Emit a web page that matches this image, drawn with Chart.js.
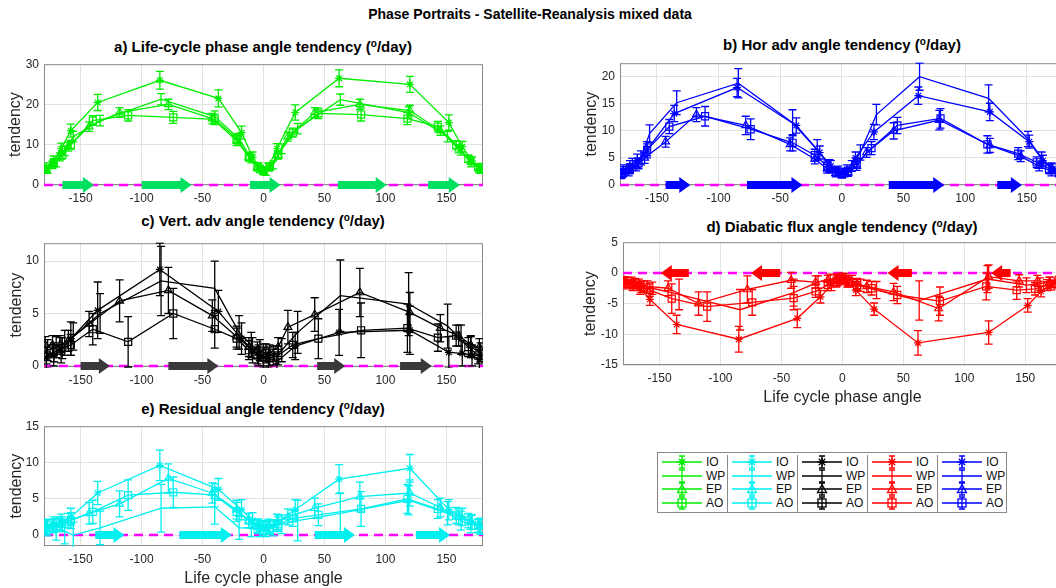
<!DOCTYPE html>
<html>
<head>
<meta charset="utf-8">
<script src="https://cdn.jsdelivr.net/npm/chart.js@4"></script>
<style>
  body { margin: 0; width: 1056px; height: 588px; overflow: hidden; background: #fff; position: relative;
         font-family: 'Liberation Sans', Arial, Helvetica, sans-serif; }
  canvas { position: absolute; }
  .ttl { position: absolute; font-weight: bold; font-size: 15px; line-height: 18px; white-space: nowrap;
         transform: translateX(-50%); color: #000; }
  .ttl sup { font-size: 10px; vertical-align: 5px; line-height: 0; }
  #main { font-size: 14px; }
  #legend { position: absolute; left: 657px; top: 452px; width: 350px; height: 61px; border: 1px solid #888; box-sizing: border-box; }
  .col { position: absolute; top: 2px; width: 70px; height: 57px; }
  .col + .col { border-left: 1px solid #888; }
  .row { height: 13.7px; display: flex; align-items: center; font-size: 12px; color: #111; }
  .row svg { margin-left: 4px; margin-right: 4px; }
</style>
</head>
<body>
<div class="ttl" id="main" style="left:530px; top:5px;">Phase Portraits - Satellite-Reanalysis mixed data</div>
<div class="ttl" style="left:263px; top:38px;">a) Life-cycle phase angle tendency (<sup>o</sup>/day)</div>
<div class="ttl" style="left:842px; top:36px;">b) Hor adv angle tendency (<sup>o</sup>/day)</div>
<div class="ttl" style="left:263px; top:212px;">c) Vert. adv angle tendency (<sup>o</sup>/day)</div>
<div class="ttl" style="left:842px; top:218px;">d) Diabatic flux angle tendency (<sup>o</sup>/day)</div>
<div class="ttl" style="left:263px; top:400px;">e) Residual angle tendency (<sup>o</sup>/day)</div>
<canvas id="pa" width="490" height="152" style="left:0px; top:52px;"></canvas>
<canvas id="pb" width="500" height="153" style="left:570px; top:51px;"></canvas>
<canvas id="pc" width="490" height="155" style="left:0px; top:231px;"></canvas>
<canvas id="pd" width="495" height="177" style="left:573px; top:230px;"></canvas>
<canvas id="pe" width="490" height="174" style="left:0px; top:414px;"></canvas>
<div id="legend"></div>
<script>
const FONT = "'Liberation Sans', Arial, Helvetica, sans-serif";

// phase angle of each composite point, per region
const xIO = [-178, -172, -166, -158, -136, -85, -37, -18, -9, -4, 0, 4, 11, 26, 62, 120, 152, 163, 171, 177];
const xWP = [-177, -170, -163, -156, -134, -84, -40, -20, -10, -3, 2, 8, 15, 28, 63, 119, 151, 162, 170, 178];
const xEP = [-179, -173, -167, -160, -143, -118, -78, -42, -22, -12, -5, 0, 5, 12, 20, 42, 79, 120, 145, 160, 170, 177];
const xAO = [-178, -172, -165, -158, -140, -111, -74, -40, -22, -12, -5, 0, 5, 12, 24, 45, 80, 118, 143, 158, 168, 176];
const xTicks = [-150, -100, -50, 0, 50, 100, 150];

// a) life-cycle
const aIO = [4.5, 6.0, 9.0, 13.5, 20.5, 26.0, 21.5, 13.0, 7.0, 4.5, 3.5, 4.5, 9.0, 18.0, 26.5, 25.0, 15.5, 9.5, 6.0, 4.0];
const aIOe = [1.0, 1.2, 1.4, 1.6, 2.0, 2.2, 2.1, 1.6, 1.2, 1.0, 1.0, 1.0, 1.3, 1.9, 2.1, 2.0, 1.9, 1.3, 1.0, 1.0];
const aWP = [3.8, 5.5, 8.5, 12.0, 16.0, 21.3, 17.0, 11.5, 6.5, 4.0, 3.3, 5.0, 9.0, 14.0, 21.2, 18.0, 12.0, 8.5, 5.5, 3.8];
const aWPe = [0.9, 1.0, 1.2, 1.3, 1.3, 1.4, 1.4, 1.3, 1.0, 0.9, 0.9, 1.0, 1.2, 1.3, 1.4, 1.4, 1.3, 1.1, 1.0, 0.9];
const aEP = [3.8, 5.0, 7.0, 9.5, 14.5, 18.0, 20.0, 16.5, 11.0, 7.0, 4.5, 3.5, 4.5, 7.5, 12.0, 18.0, 20.0, 18.5, 13.5, 9.0, 6.0, 4.0];
const aEPe = [0.8, 0.9, 1.0, 1.1, 1.2, 1.2, 1.3, 1.3, 1.2, 1.0, 0.9, 0.8, 0.9, 1.0, 1.1, 1.2, 1.3, 1.3, 1.2, 1.0, 0.9, 0.8];
const aAO = [4.0, 5.5, 7.5, 10.0, 16.0, 17.3, 16.8, 16.3, 11.5, 7.0, 4.5, 3.5, 4.5, 7.5, 13.0, 17.8, 17.5, 16.5, 14.5, 10.0, 6.5, 4.5];
const aAOe = [0.8, 0.9, 1.0, 1.1, 1.2, 1.4, 1.5, 1.3, 1.2, 1.0, 0.9, 0.8, 0.9, 1.0, 1.1, 1.3, 1.6, 1.5, 1.3, 1.0, 0.9, 0.8];

// b) horizontal advection
const bIO = [2.5, 3.5, 4.5, 6.5, 13.2, 18.0, 11.0, 6.0, 3.5, 2.5, 2.2, 2.8, 5.0, 9.8, 16.5, 13.5, 8.0, 4.5, 3.0, 2.5];
const bIOe = [0.9, 1.0, 1.2, 1.5, 1.5, 1.7, 1.4, 1.2, 1.0, 0.8, 0.8, 0.9, 1.1, 1.4, 1.6, 1.6, 1.2, 1.0, 0.9, 0.8];
const bWP = [2.8, 3.8, 5.0, 9.5, 15.2, 18.8, 11.5, 6.5, 3.5, 2.6, 2.3, 3.5, 6.0, 13.0, 20.0, 16.0, 8.5, 5.0, 3.2, 2.5];
const bWPe = [0.9, 1.1, 1.3, 1.6, 2.2, 2.7, 2.4, 1.9, 1.2, 0.9, 0.8, 1.0, 1.4, 1.9, 2.5, 2.5, 1.4, 1.1, 0.9, 0.8];
const bEP = [2.0, 2.5, 3.5, 5.0, 8.0, 13.0, 11.0, 7.5, 4.8, 3.0, 2.2, 2.0, 2.3, 3.5, 6.0, 10.0, 12.0, 7.3, 5.3, 3.5, 2.5, 2.0];
const bEPe = [0.8, 0.8, 0.9, 1.0, 1.0, 1.3, 1.7, 1.2, 0.9, 0.8, 0.7, 0.7, 0.7, 0.8, 0.9, 1.5, 1.8, 1.3, 1.0, 0.9, 0.8, 0.8];
const bAO = [2.2, 3.0, 4.0, 6.5, 10.8, 12.7, 10.3, 7.8, 5.5, 3.5, 2.5, 2.0, 2.5, 4.0, 6.8, 11.0, 12.3, 7.5, 5.8, 4.2, 3.0, 2.3];
const bAOe = [0.8, 0.9, 1.0, 1.1, 1.3, 1.8, 1.9, 1.5, 1.1, 0.9, 0.8, 0.7, 0.8, 0.9, 1.2, 1.5, 1.8, 1.6, 1.1, 1.0, 0.9, 0.8];

// c) vertical advection
const cIO = [0.8, 1.0, 1.5, 2.6, 5.3, 9.2, 5.2, 2.6, 1.5, 1.0, 0.8, 0.8, 0.4, 1.9, 3.2, 3.4, 1.3, 1.2, 1.0, 0.6];
const cIOe = [1.0, 1.0, 1.2, 1.6, 2.7, 2.5, 2.0, 1.5, 1.2, 1.0, 1.0, 1.0, 0.8, 1.3, 2.2, 2.3, 1.5, 1.2, 1.0, 0.9];
const cWP = [1.5, 1.8, 2.2, 2.8, 5.0, 8.1, 7.4, 3.2, 2.0, 1.5, 1.2, 1.0, 1.5, 3.2, 6.7, 5.9, 3.8, 2.5, 1.8, 1.3];
const cWPe = [1.0, 1.0, 1.2, 1.3, 1.9, 3.3, 2.6, 1.6, 1.2, 1.0, 0.9, 0.9, 1.1, 2.0, 3.4, 3.0, 2.1, 1.4, 1.0, 0.9];
const cEP = [2.0, 2.0, 2.0, 2.4, 4.0, 6.2, 7.2, 4.8, 2.8, 1.8, 1.5, 1.3, 1.2, 1.8, 3.7, 4.9, 7.0, 5.1, 3.6, 2.9, 2.0, 1.8];
const cEPe = [0.8, 0.9, 0.9, 1.0, 1.2, 2.0, 2.2, 1.5, 1.0, 0.9, 0.8, 0.8, 0.8, 0.9, 1.6, 1.6, 2.3, 1.9, 1.3, 1.0, 0.9, 0.8];
const cAO = [1.0, 1.3, 1.7, 2.0, 3.5, 2.3, 5.0, 3.5, 2.6, 1.5, 1.0, 0.8, 0.8, 1.0, 2.0, 2.6, 3.4, 3.6, 2.7, 2.9, 1.8, 1.0];
const cAOe = [0.8, 0.9, 1.0, 1.0, 1.5, 2.4, 2.4, 1.8, 1.0, 0.9, 0.8, 0.8, 0.8, 0.9, 1.2, 1.9, 2.6, 2.3, 1.3, 1.0, 0.9, 0.8];

// d) diabatic flux
const dIO = [-1.6, -2.0, -2.5, -4.3, -8.4, -10.8, -7.4, -3.9, -2.0, -1.3, -1.0, -1.5, -2.8, -5.9, -11.4, -9.7, -5.3, -3.0, -2.0, -1.5];
const dIOe = [0.8, 0.9, 1.0, 1.0, 1.5, 2.1, 1.5, 1.0, 0.9, 0.8, 0.8, 0.8, 0.9, 1.0, 2.0, 1.9, 1.1, 0.9, 0.8, 0.8];
const dWP = [-1.5, -1.7, -2.2, -2.5, -3.5, -6.0, -3.2, -1.5, -1.0, -0.8, -0.8, -1.2, -2.0, -2.8, -4.5, -1.0, -2.0, -1.8, -1.5, -1.3];
const dWPe = [0.8, 0.8, 0.9, 1.0, 2.5, 3.3, 2.2, 1.0, 0.8, 0.7, 0.7, 0.8, 1.0, 1.4, 3.2, 2.2, 1.2, 1.0, 0.8, 0.8];
const dEP = [-1.3, -1.5, -1.8, -2.2, -2.5, -5.0, -2.7, -1.2, -1.5, -1.2, -1.0, -0.8, -1.2, -1.8, -2.2, -3.1, -5.8, -0.6, -1.3, -1.3, -1.5, -1.5];
const dEPe = [0.7, 0.8, 0.8, 0.9, 1.2, 1.9, 2.2, 1.3, 1.0, 0.8, 0.7, 0.7, 0.8, 0.9, 1.0, 1.4, 2.0, 1.9, 1.0, 0.9, 0.8, 0.7];
const dAO = [-1.8, -2.0, -2.3, -2.8, -4.2, -5.5, -4.8, -4.1, -3.0, -2.0, -1.5, -1.2, -1.5, -2.0, -2.5, -3.6, -4.6, -2.2, -2.8, -2.6, -2.0, -1.8];
const dAOe = [0.8, 0.8, 0.9, 1.0, 2.4, 2.4, 2.1, 1.9, 1.0, 0.9, 0.8, 0.7, 0.8, 0.9, 1.1, 1.4, 2.3, 2.2, 1.5, 1.0, 0.9, 0.8];

// e) residual
const eIO = [1.2, 1.5, 1.8, 2.5, 5.8, 9.6, 6.3, 3.5, 2.0, 1.2, 1.0, 1.2, 1.8, 3.5, 7.7, 9.2, 3.5, 2.5, 1.8, 1.3];
const eIOe = [1.0, 1.0, 1.1, 1.2, 1.6, 2.1, 1.5, 1.4, 1.1, 1.0, 1.0, 1.0, 1.1, 1.4, 2.0, 1.9, 1.4, 1.2, 1.0, 1.0];
const eWP = [1.0, 0.8, 0.5, 0.0, 1.0, 3.7, 3.9, 1.0, 1.0, 0.8, 0.8, 1.0, 1.5, 2.0, 3.0, 4.8, 3.0, 2.0, 1.5, 1.2];
const eWPe = [1.1, 1.5, 1.7, 1.8, 2.3, 3.3, 2.4, 1.6, 1.2, 1.0, 1.0, 1.1, 1.3, 2.8, 2.8, 2.0, 1.6, 1.3, 1.2, 1.1];
const eEP = [1.0, 1.3, 1.5, 2.0, 3.0, 4.3, 7.8, 5.8, 3.5, 2.0, 1.3, 1.0, 1.2, 1.8, 2.5, 3.7, 5.3, 5.8, 3.8, 2.5, 1.8, 1.2];
const eEPe = [0.9, 0.9, 1.0, 1.0, 1.5, 1.8, 2.0, 1.4, 1.3, 1.0, 0.9, 0.9, 0.9, 1.0, 1.1, 1.4, 2.0, 1.8, 1.3, 1.1, 1.0, 0.9];
const eAO = [1.0, 1.2, 1.5, 2.0, 3.2, 5.5, 5.9, 5.5, 3.2, 2.0, 1.2, 1.0, 1.0, 1.5, 2.3, 2.8, 3.6, 5.0, 3.6, 2.7, 2.0, 1.3];
const eAOe = [0.9, 0.9, 1.0, 1.1, 1.6, 2.1, 2.1, 1.6, 1.3, 1.0, 0.9, 0.9, 0.9, 1.0, 1.1, 1.5, 2.4, 2.0, 1.3, 1.1, 1.0, 0.9];

// phase direction arrows along the zero line [from, to] in degrees
const arrowsA = [[-165, -139], [-100, -59], [-11, 14], [61, 101], [135, 161]];
const arrowsB = [[-143, -123], [-77, -32], [38, 83], [126, 146]];
const arrowsC = [[-150, -126], [-78, -37], [44, 67], [112, 138]];
const arrowsD = [[-126, -149], [-51, -75], [57, 37], [138, 122]];
const arrowsE = [[-138, -114], [-69, -26], [42, 75], [125, 153]];

const regions = ['IO', 'WP', 'EP', 'AO'];
const regionX = { IO: xIO, WP: xWP, EP: xEP, AO: xAO };
const markers = { IO: 'star', WP: false, EP: 'triangle', AO: 'rect' };
const markerSize = { IO: 4, WP: 0, EP: 4.5, AO: 5 };

// axes box first, so the dashed zero line sits on top of it
const frame = {
  id: 'frame',
  beforeDatasetsDraw(chart) {
    const { ctx, chartArea: ca } = chart;
    ctx.save();
    ctx.strokeStyle = '#8a8a8a';
    ctx.lineWidth = 1;
    ctx.strokeRect(ca.left + 0.5, ca.top + 0.5, ca.right - ca.left - 1, ca.bottom - ca.top - 1);
    ctx.restore();
  }
};

const zeroArrows = {
  id: 'zeroArrows',
  beforeDatasetsDraw(chart, args, opts) {
    const { ctx, chartArea: ca, scales: { x, y } } = chart;
    const y0 = y.getPixelForValue(0);
    ctx.save();
    ctx.strokeStyle = '#ff00ff';
    ctx.lineWidth = 2.5;
    ctx.setLineDash([9, 6]);
    ctx.beginPath();
    ctx.moveTo(ca.left, y0);
    ctx.lineTo(ca.right, y0);
    ctx.stroke();
    ctx.fillStyle = opts.color;
    opts.arrows.forEach(([from, to]) => {
      const x0 = x.getPixelForValue(from), x1 = x.getPixelForValue(to);
      const xb = x1 - Math.sign(x1 - x0) * 11;
      ctx.beginPath();
      ctx.moveTo(x0, y0 - 4);
      ctx.lineTo(xb, y0 - 4);
      ctx.lineTo(xb, y0 - 8);
      ctx.lineTo(x1, y0);
      ctx.lineTo(xb, y0 + 8);
      ctx.lineTo(xb, y0 + 4);
      ctx.lineTo(x0, y0 + 4);
      ctx.closePath();
      ctx.fill();
    });
    ctx.restore();
  }
};

const errorBars = {
  id: 'errorBars',
  afterDatasetsDraw(chart) {
    const { ctx, chartArea: ca, scales: { y } } = chart;
    ctx.save();
    ctx.beginPath();
    ctx.rect(ca.left, ca.top - 1, ca.right - ca.left, ca.bottom - ca.top + 2);
    ctx.clip();
    chart.data.datasets.forEach((ds, i) => {
      const meta = chart.getDatasetMeta(i);
      ctx.strokeStyle = ds.borderColor;
      ctx.lineWidth = 1.3;
      meta.data.forEach((pt, j) => {
        const v = ds.data[j].y, e = ds.errs[j];
        const yt = y.getPixelForValue(v + e), yb = y.getPixelForValue(v - e);
        ctx.beginPath();
        ctx.moveTo(pt.x, yt); ctx.lineTo(pt.x, yb);
        ctx.moveTo(pt.x - 4, yt); ctx.lineTo(pt.x + 4, yt);
        ctx.moveTo(pt.x - 4, yb); ctx.lineTo(pt.x + 4, yb);
        ctx.stroke();
      });
    });
    ctx.restore();
  }
};

function makePanel(id, p) {
  const datasets = regions.map(r => ({
    label: r,
    data: regionX[r].map((x, i) => ({ x: x, y: p.vals[r][i] })),
    errs: p.errs[r],
    borderColor: p.color,
    borderWidth: 1.3,
    pointStyle: markers[r],
    pointRadius: markerSize[r],
    pointBorderWidth: 1.2,
    pointBackgroundColor: 'rgba(0,0,0,0)',
    pointBorderColor: p.color,
    fill: false
  }));
  const tickFont = { family: FONT, size: 12 };
  return new Chart(id, {
    type: 'line',
    data: { datasets: datasets },
    options: {
      responsive: false,
      animation: false,
      devicePixelRatio: 1,
      layout: { padding: { top: 7, right: p.padRight, left: 0, bottom: 0 } },
      plugins: { legend: { display: false }, tooltip: { enabled: false },
                 zeroArrows: { color: p.arrowColor, arrows: p.arrows } },
      scales: {
        x: {
          type: 'linear', min: -180, max: 180,
          afterBuildTicks: s => { s.ticks = xTicks.map(v => ({ value: v })); },
          afterFit: s => { s.height = p.xH; },
          grid: { color: '#e2e2e2', drawTicks: false },
          border: { display: false },
          ticks: { font: tickFont, color: '#262626', padding: 6, maxRotation: 0 },
          title: { display: !!p.xTitle, text: 'Life cycle phase angle', font: { family: FONT, size: 16 },
                   color: '#262626', padding: { top: 0, bottom: 0 } }
        },
        y: {
          min: p.yMin, max: p.yMax,
          afterBuildTicks: s => { s.ticks = p.yTicks.map(v => ({ value: v })); },
          afterFit: s => { s.width = p.yW; },
          grid: { color: '#e2e2e2', drawTicks: false },
          border: { display: false },
          ticks: { font: tickFont, color: '#262626', padding: 5 },
          title: { display: true, text: 'tendency', font: { family: FONT, size: 16 },
                   color: '#262626', padding: { top: p.yTitlePad, bottom: 0 } }
        }
      }
    },
    plugins: [frame, zeroArrows, errorBars]
  });
}

makePanel('pa', { color: '#00ee00', arrowColor: '#00e060', arrows: arrowsA, yMin: 0, yMax: 30, yTicks: [0, 10, 20, 30],
  yW: 44, xH: 19, padRight: 7, yTitlePad: 6,
  vals: { IO: aIO, WP: aWP, EP: aEP, AO: aAO }, errs: { IO: aIOe, WP: aWPe, EP: aEPe, AO: aAOe } });
makePanel('pb', { color: '#0000ff', arrowColor: '#0000ff', arrows: arrowsB, yMin: 0, yMax: 22.5, yTicks: [0, 5, 10, 15, 20],
  yW: 50, xH: 19, padRight: 6, yTitlePad: 12,
  vals: { IO: bIO, WP: bWP, EP: bEP, AO: bAO }, errs: { IO: bIOe, WP: bWPe, EP: bEPe, AO: bAOe } });
makePanel('pc', { color: '#000000', arrowColor: '#3a3a3a', arrows: arrowsC, yMin: -0.1, yMax: 11.7, yTicks: [0, 5, 10],
  yW: 44, xH: 19, padRight: 7, yTitlePad: 7,
  vals: { IO: cIO, WP: cWP, EP: cEP, AO: cAO }, errs: { IO: cIOe, WP: cWPe, EP: cEPe, AO: cAOe } });
makePanel('pd', { color: '#ff0000', arrowColor: '#ff0000', arrows: arrowsD, yMin: -15, yMax: 5, yTicks: [-15, -10, -5, 0, 5],
  yW: 50, xH: 42, padRight: 6, yTitlePad: 8, xTitle: true,
  vals: { IO: dIO, WP: dWP, EP: dEP, AO: dAO }, errs: { IO: dIOe, WP: dWPe, EP: dEPe, AO: dAOe } });
makePanel('pe', { color: '#00f0f0', arrowColor: '#00f0f0', arrows: arrowsE, yMin: -1.5, yMax: 15, yTicks: [0, 5, 10, 15],
  yW: 44, xH: 42, padRight: 7, yTitlePad: 7, xTitle: true,
  vals: { IO: eIO, WP: eWP, EP: eEP, AO: eAO }, errs: { IO: eIOe, WP: eWPe, EP: eEPe, AO: eAOe } });

// legend table: one column per variable colour
const legendColors = ['#00ee00', '#00f0f0', '#000000', '#ff0000', '#0000ff'];
function sampleSvg(color, marker) {
  let m = '';
  if (marker === 'star') m = `<path d="M15.5 7h9M20 2.5v9M16.8 3.8l6.4 6.4M23.2 3.8l-6.4 6.4" stroke="${color}" stroke-width="1.3"/>`;
  if (marker === 'triangle') m = `<path d="M20 2.5l4.5 8h-9z" fill="none" stroke="${color}" stroke-width="1.3"/>`;
  if (marker === 'rect') m = `<rect x="16" y="3" width="8" height="8" fill="none" stroke="${color}" stroke-width="1.3"/>`;
  return `<svg width="40" height="14" viewBox="0 0 40 14">
    <path d="M0 7h40M20 1v12M17 1h6M17 13h6" stroke="${color}" stroke-width="1.3" fill="none"/>${m}</svg>`;
}
const legend = document.getElementById('legend');
legendColors.forEach((c, k) => {
  const col = document.createElement('div');
  col.className = 'col';
  col.style.left = (k * 70 - (k ? 1 : 0)) + 'px';
  col.innerHTML = regions.map(r => `<div class="row">${sampleSvg(c, markers[r])}<span>${r}</span></div>`).join('');
  legend.appendChild(col);
});
</script>
</body>
</html>
